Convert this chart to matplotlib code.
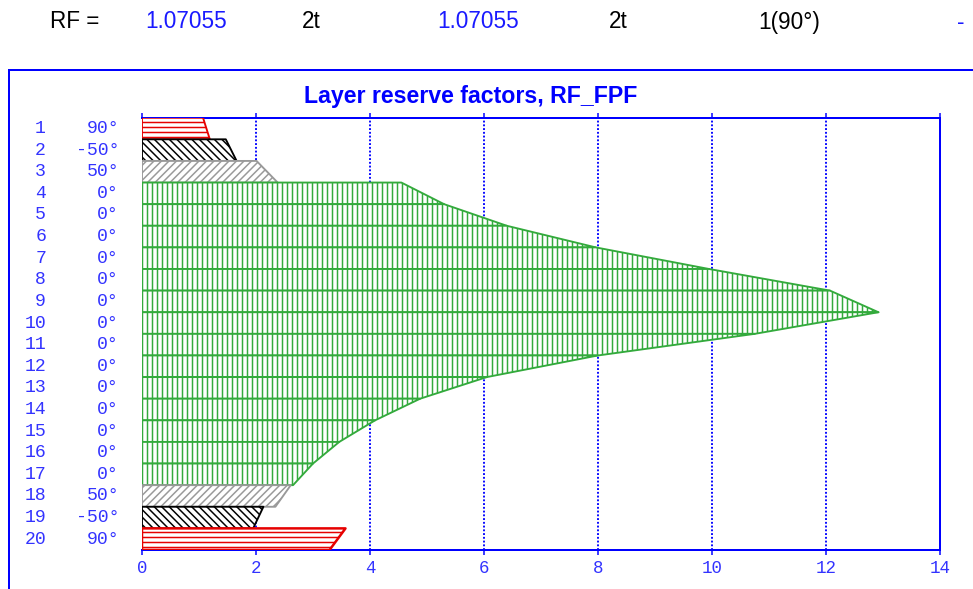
import matplotlib
matplotlib.use("Agg")
from matplotlib import pyplot as plt
from matplotlib.lines import Line2D
from matplotlib import transforms

# ply stack: layer number, fibre angle, reserve factor at top / bottom of each layer
layers = list(range(1, 21))
angles = [90, -50, 50, 0, 0, 0, 0, 0, 0, 0, 0, 0, 0, 0, 0, 0, 0, 50, -50, 90]
rf_top = [1.07055, 1.47, 2.01, 4.55, 5.30, 6.40, 7.96, 9.95, 12.07, 12.92,
          10.75, 8.00, 6.05, 4.88, 4.09, 3.46, 3.00, 2.61, 2.13, 3.57]
rf_bot = [1.19, 1.66, 2.38, 5.30, 6.40, 7.96, 9.95, 12.07, 12.92, 10.75,
          8.00, 6.05, 4.88, 4.09, 3.46, 3.00, 2.65, 2.34, 1.95, 3.29]
x_ticks = [0, 2, 4, 6, 8, 10, 12, 14]

header = [("RF =", "black"), ("1.07055", "#1a1aff"), ("2t", "black"),
          ("1.07055", "#1a1aff"), ("2t", "black"), ("1(90°)", "black"), ("-", "#1a1aff")]
header_x = [50, 145, 302, 437, 609, 758, 957]

ply_style = {90: ("#e60000", "---"), -50: ("black", "\\\\\\\\"),
             50: ("#999999", "////"), 0: ("#33aa3c", "|||")}

BLUE = "#0000ff"
LBLUE = "#3333ff"
DPI = 90
W, H = 973, 589

plt.rcParams["hatch.linewidth"] = 1.2

fig = plt.figure(figsize=(W / DPI, H / DPI), dpi=DPI)
ax = fig.add_axes([142 / W, 1 - 550 / H, (940 - 142) / W, (550 - 117.7) / H])

for i, ang, t, b in zip(layers, angles, rf_top, rf_bot):
    col, hatch = ply_style[ang]
    lw = 2.0 if i == 20 else 1.5
    ax.fill_betweenx([i - 1, i], 0, [t, b], facecolor="white", edgecolor=col,
                     hatch=hatch, linewidth=lw, zorder=3)

ax.set_xlim(0, 14)
ax.set_ylim(20, 0)
ax.set_xticks(x_ticks)
ax.set_yticks([])
for v in x_ticks[1:-1]:
    ax.axvline(v, color=BLUE, linestyle=(0, (1, 1)), linewidth=1.5, zorder=1)

for s in ["top", "bottom", "right"]:
    ax.spines[s].set_color(BLUE)
    ax.spines[s].set_linewidth(1.6)
ax.spines["left"].set_visible(False)
ax.tick_params(axis="x", colors=BLUE, length=4, width=1.2, direction="out",
               top=True, labeltop=False, pad=4)
for lab in ax.get_xticklabels():
    lab.set_fontfamily("Liberation Mono")
    lab.set_fontsize(14)
    lab.set_color(LBLUE)

# layer labels on the left
tr = transforms.blended_transform_factory(fig.transFigure, ax.transData)
for i, ang in zip(layers, angles):
    ax.text(46 / W, i - 0.5, str(i), transform=tr, ha="right", va="center",
            family="Liberation Mono", fontsize=14.5, color=LBLUE)
    ax.text(119 / W, i - 0.5, f"{ang}°", transform=tr, ha="right", va="center",
            family="Liberation Mono", fontsize=14.5, color=LBLUE)

fig.text(471 / W, 1 - 97 / H, "Layer reserve factors, RF_FPF", ha="center", va="center",
         family="Liberation Sans", fontweight="bold", fontsize=18.5, color=BLUE)

for (txt, col), x in zip(header, header_x):
    fig.text(x / W, 1 - 22 / H, txt, ha="left", va="center",
             family="Liberation Sans", fontsize=18, color=col)

# outer panel frame
fig.add_artist(Line2D([9 / W, 1], [1 - 70 / H, 1 - 70 / H], color=BLUE, linewidth=1.6))
fig.add_artist(Line2D([9 / W, 9 / W], [0, 1 - 70 / H], color=BLUE, linewidth=1.6))

fig.savefig("out.png", dpi=DPI)
